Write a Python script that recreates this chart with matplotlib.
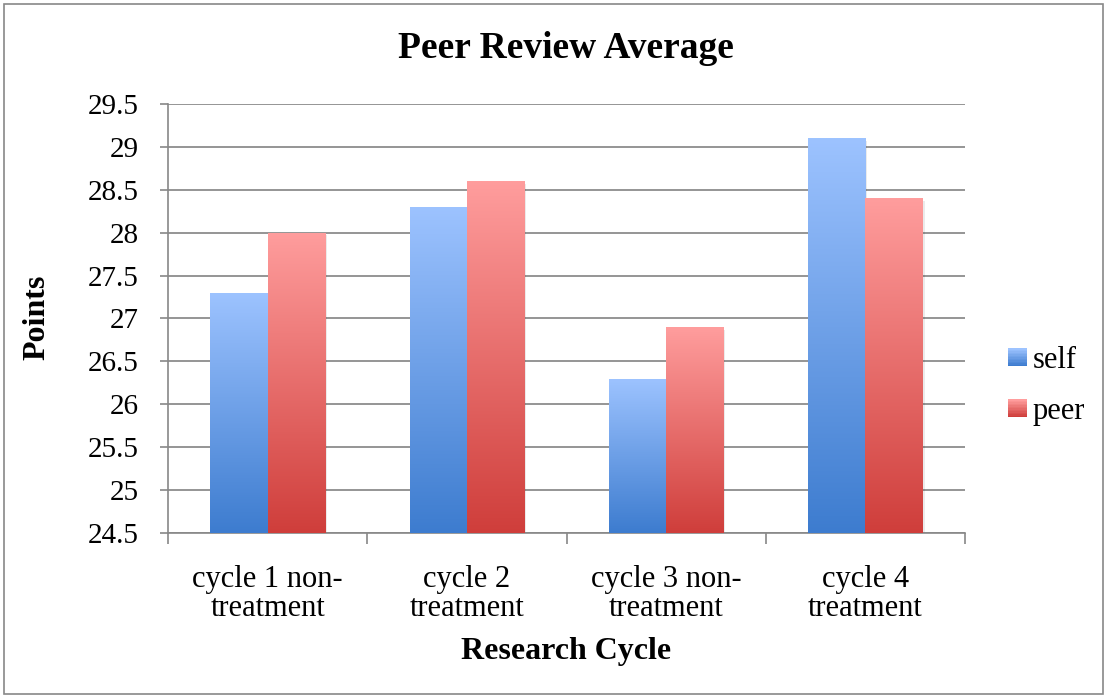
import numpy as np
import matplotlib.pyplot as plt
from matplotlib.colors import LinearSegmentedColormap
from matplotlib.patches import Rectangle
from matplotlib.legend_handler import HandlerBase

# data
categories = ['cycle 1 non-\ntreatment', 'cycle 2\ntreatment',
              'cycle 3 non-\ntreatment', 'cycle 4\ntreatment']
self_vals = [27.3, 28.3, 26.3, 29.1]
peer_vals = [28.0, 28.6, 26.9, 28.4]
series_names = ['self', 'peer']
yticks = [24.5, 25, 25.5, 26, 26.5, 27, 27.5, 28, 28.5, 29, 29.5]

plt.rcParams['font.family'] = ['Liberation Serif', 'DejaVu Serif']

blue_cmap = LinearSegmentedColormap.from_list('b', ['#3d7ccf', '#9dc3ff'])
red_cmap = LinearSegmentedColormap.from_list('r', ['#cf3e3b', '#ff9d9d'])

fig = plt.figure(figsize=(11.07, 6.98), dpi=100)
ax = fig.add_axes([0.1518, 0.2364, 0.7199, 0.6146])

x = np.arange(len(categories))
w = 0.287
ymin, ymax = 24.5, 29.5
grad = np.linspace(0, 1, 256).reshape(-1, 1)


def gradient_bars(xpos, vals, cmap):
    bars = ax.bar(xpos, np.array(vals) - ymin, w, bottom=ymin,
                  color='none', edgecolor='none', zorder=3)
    for b in bars:
        x0, y0 = b.get_x(), b.get_y()
        x1, y1 = x0 + b.get_width(), y0 + b.get_height()
        # light soft shadow
        ax.add_patch(Rectangle((x0 + 0.01, y0 - 0.03), b.get_width(), b.get_height(),
                               color='#000000', alpha=0.08, zorder=2, lw=0))
        im = ax.imshow(grad, cmap=cmap, extent=[x0, x1, y0, y1], origin='lower',
                       aspect='auto', zorder=3)
        im.set_clip_path(b)
    return bars


gradient_bars(x - w / 2, self_vals, blue_cmap)
gradient_bars(x + w / 2, peer_vals, red_cmap)

ax.set_xlim(-0.5, len(categories) - 0.5)
ax.set_ylim(ymin, ymax)
ax.set_yticks(yticks)
ax.set_yticklabels([f'{t:g}' for t in yticks])
ax.set_xticks(x)
ax.set_xticklabels(categories, fontsize=22, linespacing=1.0)
ax.set_xticks(np.arange(len(categories) + 1) - 0.5, minor=True)
ax.tick_params(axis='x', which='major', length=0, pad=23)
ax.tick_params(axis='x', which='minor', length=8, color='#888888', width=1.2)
ax.tick_params(axis='y', length=6, color='#888888', width=1.2, labelsize=21, pad=15)

ax.grid(axis='y', color='#8c8c8c', lw=1.3, zorder=0)
ax.set_axisbelow(True)
for s in ['top', 'right']:
    ax.spines[s].set_visible(False)
ax.spines['left'].set_color('#888888')
ax.spines['bottom'].set_color('#888888')
ax.spines['left'].set_linewidth(1.2)
ax.spines['bottom'].set_linewidth(1.2)


class GradHandler(HandlerBase):
    def __init__(self, cmap):
        super().__init__()
        self.cmap = cmap

    def create_artists(self, legend, orig, xd, yd, width, height, fontsize, trans):
        n = 12
        side = width
        x0 = xd
        y0 = -yd + (height - side) / 2
        out = []
        for i in range(n):
            r = Rectangle((x0, y0 + side * i / n), side, side / n + 0.3,
                          color=self.cmap(i / (n - 1)), lw=0, transform=trans)
            out.append(r)
        return out


h1 = Rectangle((0, 0), 1, 1)
h2 = Rectangle((0, 0), 1, 1)
fig.legend([h1, h2], series_names, loc='center left', bbox_to_anchor=(0.886, 0.447),
           frameon=False, fontsize=22, handlelength=0.6, handletextpad=0.2,
           labelspacing=0.72,
           handler_map={h1: GradHandler(blue_cmap), h2: GradHandler(red_cmap)})

fig.text(0.511, 0.931, 'Peer Review Average', ha='center', va='center',
         fontsize=27, fontweight='bold')
fig.text(0.511, 0.067, 'Research Cycle', ha='center', va='center',
         fontsize=23, fontweight='bold')
fig.text(0.033, 0.545, 'Points', ha='center', va='center', rotation=90,
         fontsize=23, fontweight='bold')

# outer chart border
fig.patches.append(Rectangle((0.004, 0.006), 0.992, 0.988, transform=fig.transFigure,
                             fill=False, edgecolor='#888888', lw=1.2))

fig.savefig('out.png', dpi=100)
